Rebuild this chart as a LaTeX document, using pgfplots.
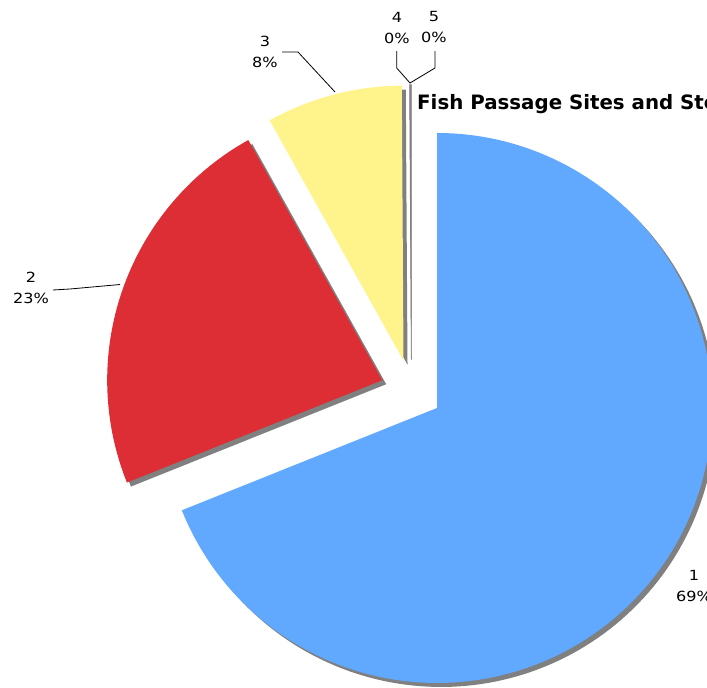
\documentclass[border=0pt]{standalone}
\usepackage{pgfplots}
\pgfplotsset{compat=1.18}
\usepackage{fontspec}
\setmainfont{DejaVu Sans}
\newfontfamily\lblfont[FakeStretch=1.15]{DejaVu Sans}
\definecolor{sblue}{RGB}{97,168,255}
\definecolor{sred}{RGB}{220,46,52}
\definecolor{syellow}{RGB}{255,244,140}
\definecolor{sshadow}{RGB}{128,128,128}
\newcommand\lbl{\lblfont\fontsize{14}{21.5}\selectfont}
\def\cx{411.4}\def\cy{390.6}\def\R{275}\def\D{31}
% slice values (percent)
\def\vA{69}\def\vB{23}\def\vC{8}\def\vD{0.05}\def\vE{0.05}
\pgfmathsetmacro\tot{\vA+\vB+\vC+\vD+\vE}
\pgfmathsetmacro\aA{90}
\pgfmathsetmacro\aB{90-3.6*(\vA/\tot)*100}
\pgfmathsetmacro\aC{\aB-3.6*(\vB/\tot)*100}
\pgfmathsetmacro\aD{\aC-3.6*(\vC/\tot)*100}
\pgfmathsetmacro\aE{\aD-3.6*(\vD/\tot)*100}
\pgfmathsetmacro\aF{\aE-3.6*(\vE/\tot)*100}
\newcommand\pieslice[4]{%
 \pgfmathsetmacro\wm{(#1+#2)/2}%
 \pgfmathsetmacro\px{\cx+\D*cos(\wm)+#4}%
 \pgfmathsetmacro\py{\cy-\D*sin(\wm)+#4}%
 \edef\doit{\noexpand\addplot[#3, domain=#1:#2, samples=160] ({\px+\R*cos(x)},{\py-\R*sin(x)}) -- (axis cs:\px,\py) -- cycle;}%
 \doit}
\begin{document}
\begin{tikzpicture}
\begin{axis}[at={(0,0)}, anchor=south west, scale only axis,
  width=707pt, height=688pt, xmin=0, xmax=707, ymin=0, ymax=688,
  y dir=reverse, hide axis, clip=false]
% shadows
\pieslice{\aB}{\aA}{fill=sshadow, draw=none}{4}
\pieslice{\aC}{\aB}{fill=sshadow, draw=none}{4}
\pieslice{\aD}{\aC}{fill=sshadow, draw=none}{4}
% slices
\pieslice{\aB}{\aA}{fill=sblue, draw=none}{0}
\pieslice{\aC}{\aB}{fill=sred, draw=none}{0}
\pieslice{\aD}{\aC}{fill=syellow, draw=none}{0}
\pieslice{\aE}{\aD}{fill=sshadow, draw=sshadow, line width=0.5pt}{0}
\pieslice{\aF}{\aE}{fill=sshadow, draw=sshadow, line width=0.5pt}{0}
% leader lines
\addplot[black, line width=0.8pt] coordinates {(53,290) (70,289) (120,284.5)};
\addplot[black, line width=0.8pt] coordinates {(282,52) (298,52) (335,92)};
\addplot[black, line width=0.8pt] coordinates {(396.7,51) (396.7,68) (410,83)};
\addplot[black, line width=0.8pt] coordinates {(435,51) (435,68) (410,83)};
% labels
\node[align=center, font=\lbl] at (axis cs:31,288) {2\\23\%};
\node[align=center, font=\lbl] at (axis cs:265,52) {3\\8\%};
\node[align=center, font=\lbl] at (axis cs:397,28) {4\\0\%};
\node[align=center, font=\lbl] at (axis cs:434,27) {5\\0\%};
\node[align=center, font=\lbl] at (axis cs:694,586) {1\\69\%};
\node[anchor=west, inner sep=0pt, font=\bfseries\fontsize{19.8}{22}\selectfont] at (axis cs:417,104) {Fish Passage Sites and Stocking};
\end{axis}
\pgfresetboundingbox
\path[use as bounding box] (0,0) rectangle (707pt,688pt);
\end{tikzpicture}
\end{document}
